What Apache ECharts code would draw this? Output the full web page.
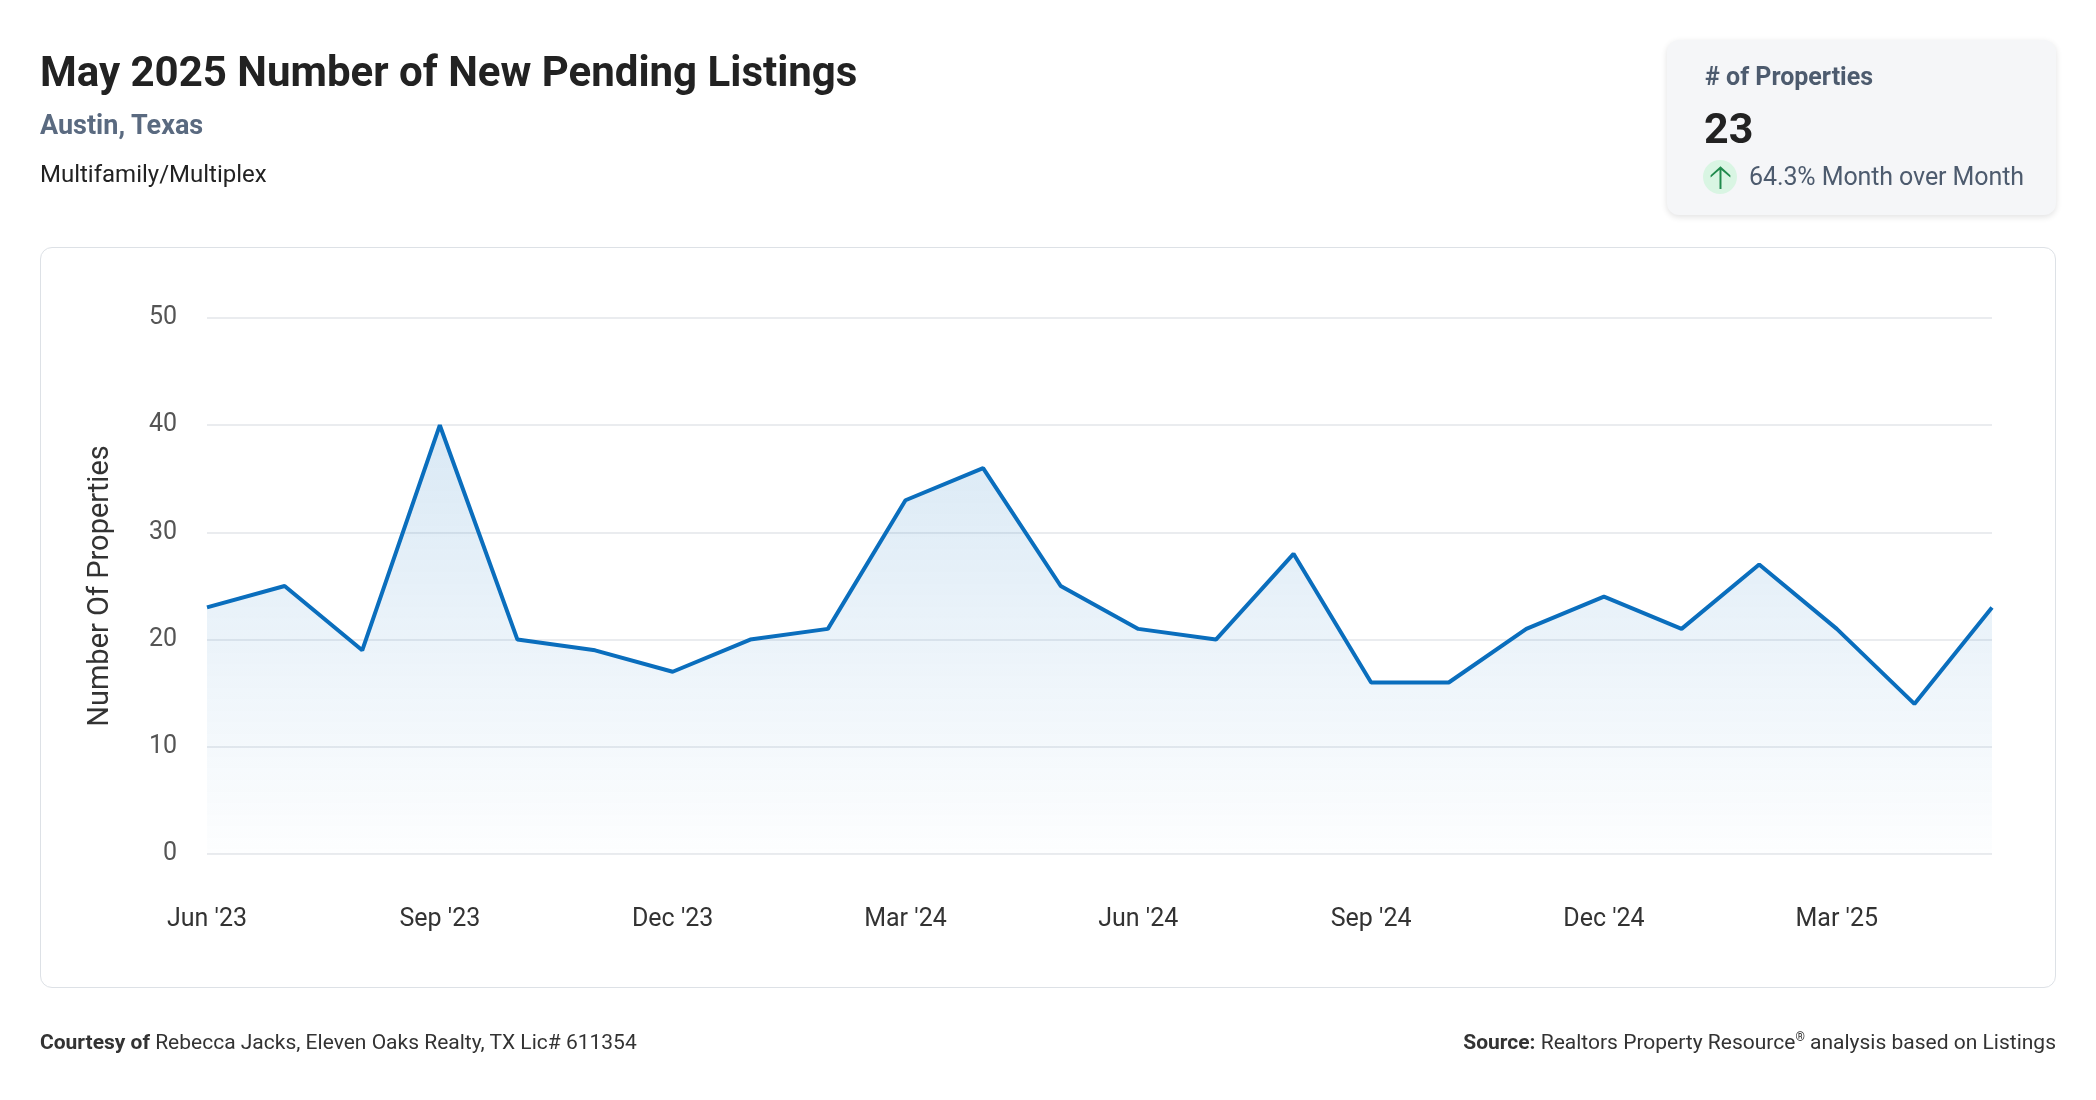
<!DOCTYPE html>
<html><head><meta charset="utf-8">
<script src="https://cdn.jsdelivr.net/npm/echarts@6/dist/echarts.min.js"></script>
<style>
body{margin:0;width:2096px;height:1100px;background:#fff;font-family:Roboto,sans-serif;position:relative;overflow:hidden}
.abs{position:absolute}
#title{left:40px;top:47px;font-size:42px;font-weight:700;color:#222}
#sub{left:40px;top:109px;font-size:27px;font-weight:700;color:#5a6a80}
#type{left:40px;top:160px;font-size:24px;color:#222}
#card{left:1667px;top:40px;width:389px;height:175px;background:#f5f6f8;border-radius:12px;box-shadow:0 2px 6px rgba(0,0,0,0.12)}
#box{left:40px;top:247px;width:2014px;height:739px;border:1.5px solid #dde1e6;border-radius:12px}
#chart{left:0;top:0;width:2096px;height:1100px}
.foot{top:1030px;font-size:21px;color:#333}
</style></head><body>
<div id="box" class="abs"></div>
<div id="chart" class="abs"></div>
<div id="title" class="abs">May 2025 Number of New Pending Listings</div>
<div id="sub" class="abs">Austin, Texas</div>
<div id="type" class="abs">Multifamily/Multiplex</div>
<div id="card" class="abs">
 <div class="abs" style="left:38px;top:22px;font-size:25px;font-weight:700;color:#4d5b6e">#&nbsp;of Properties</div>
 <div class="abs" style="left:37px;top:63px;font-size:43px;font-weight:700;color:#222">23</div>
 <div class="abs" style="left:36px;top:120px;width:34px;height:34px;border-radius:17px;background:#d9f5e3;color:#1f8a4c;font-size:32px;text-align:center;line-height:34px">&#129121;</div>
 <div class="abs" style="left:82px;top:122px;font-size:25px;color:#4d5b6e;letter-spacing:-0.1px">64.3% Month over Month</div>
</div>
<div class="abs foot" style="left:40px"><b>Courtesy of</b> Rebecca Jacks, Eleven Oaks Realty, TX Lic# 611354</div>
<div class="abs foot" style="right:40px"><b>Source:</b> Realtors Property Resource<sup style="font-size:12px">®</sup> analysis based on Listings</div>
<script>
const months=["Jun '23","Jul '23","Aug '23","Sep '23","Oct '23","Nov '23","Dec '23","Jan '24","Feb '24","Mar '24","Apr '24","May '24","Jun '24","Jul '24","Aug '24","Sep '24","Oct '24","Nov '24","Dec '24","Jan '25","Feb '25","Mar '25","Apr '25","May '25"];
const values=[23,25,19,40,20,19,17,20,21,33,36,25,21,20,28,16,16,21,24,21,27,21,14,23];
const c=echarts.init(document.getElementById('chart'));
c.setOption({
 animation:false,
 grid:{left:207,right:104,top:318,bottom:246,containLabel:false},
 xAxis:{type:'category',data:months,boundaryGap:false,
  axisLine:{show:false},axisTick:{show:false},
  axisLabel:{interval:2,fontSize:25,color:'#333',margin:53,fontFamily:'Roboto'}},
 yAxis:{type:'value',min:0,max:50,interval:10,name:'Number Of Properties',nameLocation:'middle',nameGap:92,
  nameTextStyle:{fontSize:29,color:'#333',fontFamily:'Roboto'},
  axisLabel:{fontSize:25,color:'#555',margin:30,fontFamily:'Roboto'},
  splitLine:{lineStyle:{color:'#e3e6ea',width:1.5}}},
 series:[{type:'line',data:values,symbol:'none',lineStyle:{color:'#0a6ebd',width:4},
  areaStyle:{color:new echarts.graphic.LinearGradient(0,0,0,1,[{offset:0,color:'rgba(10,110,189,0.22)'},{offset:1,color:'rgba(10,110,189,0.01)'}])}}]
});
</script></body></html>
